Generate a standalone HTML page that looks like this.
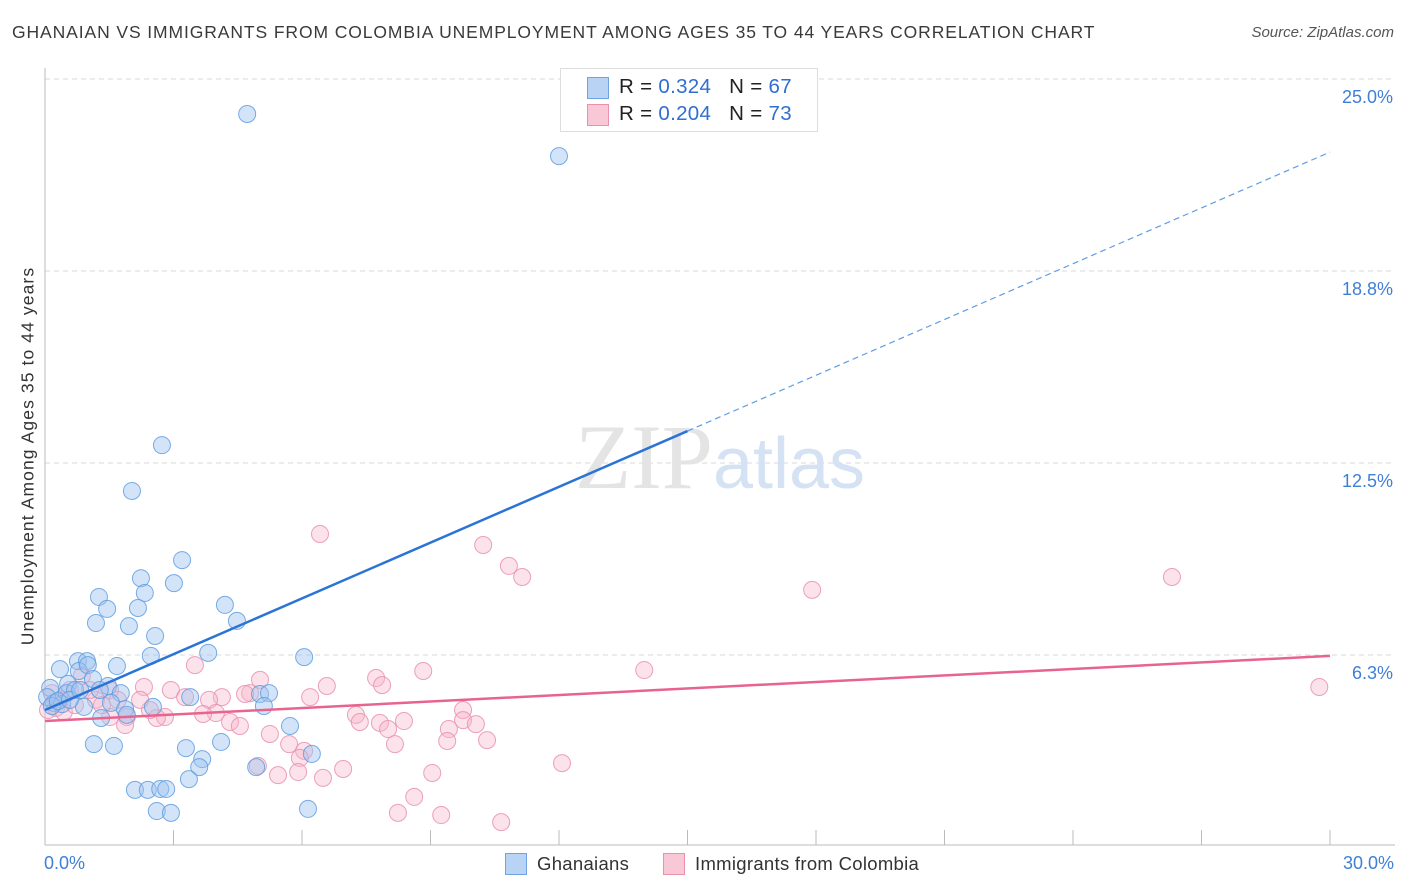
<!DOCTYPE html>
<html><head><meta charset="utf-8"><style>
body{margin:0;background:#fff;font-family:"Liberation Sans",sans-serif}
#c{position:relative;width:1406px;height:892px;overflow:hidden}
.t{position:absolute;white-space:nowrap}
</style></head><body>
<div id="c">
<div class="t" style="left:12px;top:22px;font-size:17.5px;color:#3a3a3a;letter-spacing:0.9px">GHANAIAN VS IMMIGRANTS FROM COLOMBIA UNEMPLOYMENT AMONG AGES 35 TO 44 YEARS CORRELATION CHART</div>
<div class="t" style="right:12px;top:24px;font-size:15px;color:#555;font-style:italic">Source: ZipAtlas.com</div>
<svg id="s" width="1406" height="892" style="position:absolute;left:0;top:0"></svg>
</div>
<script>
const yTicks=[25.0,18.75,12.5,6.25];
const yTickLabels=["25.0%","18.8%","12.5%","6.3%"];
const xTicks=[0,3,6,9,12,15,18,21,24,27,30];
const blueX=[4.72,12.0,2.73,2.03,3.20,2.24,3.01,1.26,2.33,1.45,2.17,4.20,1.19,1.96,4.48,2.57,2.47,3.81,6.05,0.77,0.98,0.35,1.68,0.79,1.00,0.54,1.12,1.47,1.77,3.39,5.02,5.23,0.12,0.51,0.70,0.21,0.40,0.05,1.54,1.87,2.52,5.11,1.31,1.91,5.72,1.14,1.61,3.29,4.11,3.67,3.60,6.23,4.93,3.36,2.10,2.40,2.69,2.83,2.61,2.94,6.14,0.91,0.16,0.30,0.58,0.82,1.28];
const blueY=[23.86,22.49,13.08,11.59,9.34,8.75,8.59,8.14,8.27,7.75,7.78,7.88,7.29,7.19,7.36,6.87,6.22,6.32,6.18,6.05,6.05,5.79,5.89,5.73,5.92,5.31,5.47,5.24,5.01,4.88,4.98,5.01,5.18,5.01,5.11,4.69,4.65,4.88,4.69,4.49,4.56,4.59,4.20,4.30,3.94,3.35,3.29,3.22,3.42,2.86,2.60,3.03,2.60,2.21,1.86,1.86,1.89,1.89,1.17,1.11,1.24,4.56,4.59,4.75,4.79,5.11,5.11];
const pinkX=[6.42,10.23,10.83,11.14,17.91,26.31,13.99,29.75,8.83,7.73,7.87,6.58,5.02,3.50,2.94,2.31,6.19,4.79,4.67,4.13,3.83,3.27,9.76,9.76,3.99,4.32,4.55,3.69,7.26,7.35,7.82,8.38,8.01,9.43,10.06,10.32,8.17,9.39,5.25,5.70,6.05,5.95,4.97,6.96,6.49,5.44,5.91,9.04,12.07,8.62,8.24,9.25,10.65,2.80,2.61,1.91,1.52,1.19,0.86,1.52,2.45,2.22,0.35,0.16,0.07,0.26,0.44,1.05,0.70,1.87,1.33,1.70,0.58];
const pinkY=[10.19,9.83,9.15,8.79,8.37,8.79,5.76,5.21,5.73,5.50,5.27,5.24,5.44,5.92,5.11,5.21,4.88,5.01,4.98,4.88,4.79,4.88,4.46,4.13,4.36,4.07,3.94,4.33,4.30,4.07,4.04,4.10,3.84,3.84,4.00,3.48,3.35,3.45,3.68,3.35,3.13,2.90,2.64,2.54,2.25,2.34,2.44,2.41,2.73,1.63,1.11,1.04,0.81,4.23,4.20,4.23,4.23,4.79,5.57,5.11,4.46,4.79,4.79,5.01,4.46,4.53,4.40,5.11,4.62,3.97,4.62,4.79,5.11];
const blueTrend=[4.46,22.62];
const pinkTrend=[4.10,6.22];
const X0=45,X1=1330,Y0=847,PY=30.72;
const sx=v=>X0+v*(X1-X0)/30, sy=v=>Y0-v*PY;
const s=document.getElementById('s');const NS='http://www.w3.org/2000/svg';
function mk(t,a,p){const e=document.createElementNS(NS,t);for(const k in a)e.setAttribute(k,a[k]);(p||s).appendChild(e);return e;}
yTicks.forEach((v,i)=>{const g=mk('line',{x1:45,x2:1395,y1:sy(v),y2:sy(v),stroke:'#d8d8d8','stroke-dasharray':'5,4'});

const t=mk('text',{x:1393,y:sy(v)+24,'text-anchor':'end','font-size':18,fill:'#3f7fd6','font-family':'Liberation Sans, sans-serif'});t.textContent=yTickLabels[i];
});
const ax=mk('line',{x1:45,x2:45,y1:68,y2:845,stroke:'#bbb'});
const ax2=mk('line',{x1:45,x2:1395,y1:845,y2:845,stroke:'#bbb'});
xTicks.forEach(v=>{const l=mk('line',{x1:sx(v),x2:sx(v),y1:830,y2:845,stroke:'#bbb'});});
const w=mk('text',{x:720,y:488,'text-anchor':'middle','font-size':92,fill:'#e4e4e4','font-family':'Liberation Serif, serif'});w.innerHTML='ZIP<tspan font-family="Liberation Sans, sans-serif" font-size="72" fill="#d4e2f4">atlas</tspan>';

function dots(X,Y,f,st,n){X.forEach((x,i)=>{const c=mk('circle',{cx:sx(x),cy:sy(Y[i]),r:8.5,fill:f,stroke:st,'stroke-width':1});});}
dots(pinkX,pinkY,'rgba(248,182,202,0.4)','rgba(233,145,174,0.85)','colombia-point');
dots(blueX,blueY,'rgba(160,196,240,0.45)','rgba(95,157,226,0.85)','ghanaian-point');
const by=v=>blueTrend[0]+(blueTrend[1]-blueTrend[0])*v/30;
let l=mk('line',{x1:sx(0),y1:sy(by(0)),x2:sx(15),y2:sy(by(15)),stroke:'#2a74d6','stroke-width':2.5});
l=mk('line',{x1:sx(15),y1:sy(by(15)),x2:sx(30),y2:sy(by(30)),stroke:'#5f9de2','stroke-width':1.2,'stroke-dasharray':'6,4'});
l=mk('line',{x1:sx(0),y1:sy(pinkTrend[0]),x2:sx(30),y2:sy(pinkTrend[1]),stroke:'#e8648f','stroke-width':2.5});
</script>
<div class="t" style="left:28px;top:456px;font-size:17.5px;color:#333;letter-spacing:1.1px;transform:translate(-50%,-50%) rotate(-90deg)">Unemployment Among Ages 35 to 44 years</div>
<div class="t" style="left:44px;top:853px;font-size:18px;color:#3f7fd6">0.0%</div>
<div class="t" style="right:12px;top:853px;font-size:18px;color:#3f7fd6">30.0%</div>
<div style="position:absolute;left:560px;top:68px;width:256px;height:62px;border:1px solid #ddd;background:#fff;font-size:20.5px;color:#222">
<div style="position:absolute;left:26px;top:8px;width:20px;height:20px;background:#b9d3f5;border:1px solid #6fa3e4"></div>
<div class="t" style="left:58px;top:6px;letter-spacing:0.3px">R = <span style="color:#2f6fd0">0.324</span>&nbsp;&nbsp;&nbsp;N = <span style="color:#2f6fd0">67</span></div>
<div style="position:absolute;left:26px;top:35px;width:20px;height:20px;background:#f9c8d6;border:1px solid #ec91ad"></div>
<div class="t" style="left:58px;top:33px;letter-spacing:0.3px">R = <span style="color:#2f6fd0">0.204</span>&nbsp;&nbsp;&nbsp;N = <span style="color:#2f6fd0">73</span></div>
</div>
<div style="position:absolute;left:505px;top:853px;font-size:18.5px;color:#333">
<div style="position:absolute;left:0;top:0;width:20px;height:20px;background:#b9d3f5;border:1px solid #6fa3e4"></div>
<div class="t" style="left:32px;top:0;letter-spacing:0.3px">Ghanaians</div>
<div style="position:absolute;left:158px;top:0;width:20px;height:20px;background:#f9c8d6;border:1px solid #ec91ad"></div>
<div class="t" style="left:190px;top:0;letter-spacing:0.3px">Immigrants from Colombia</div>
</div>
</body></html>
